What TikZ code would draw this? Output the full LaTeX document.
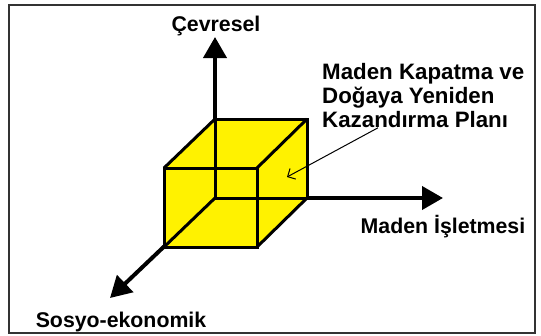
\documentclass[tikz,border=0pt]{standalone}
\usepackage{fontspec}
\setmainfont{Liberation Sans}
\usetikzlibrary{arrows.meta}

\begin{document}
\begin{tikzpicture}[x=1pt, y=-1pt,
    axisarrow/.style={line width=4pt, -{Triangle[length=21pt,width=23pt]}},
    cubeedge/.style={line width=3pt, line join=miter},
    axlabel/.style={font=\fontsize{21.3}{24}\selectfont\bfseries, inner sep=0pt},
    note/.style={line width=1pt, -{Straight Barb[length=6pt,width=12pt]}}]
    \useasboundingbox (0,0) rectangle (541,335);
    \draw[line width=1.3pt, black!80] (9,5) rectangle (535,333);

    % axes
    \coordinate (O) at (215,198);
    \coordinate (up) at (215,37);
    \coordinate (right) at (443,198);
    \coordinate (down) at (110,298);

    \draw[axisarrow] (O) -- (up);
    \draw[axisarrow] (O) -- (right);
    \draw[axisarrow] (O) -- (down);

    % cube
    \coordinate (fbl) at (164,247);
    \coordinate (ftl) at (164,168);
    \coordinate (ftr) at (257,168);
    \coordinate (fbr) at (257,247);
    \coordinate (btl) at (215,119);
    \coordinate (btr) at (307,119);
    \coordinate (bbr) at (307,198);

    \fill[yellow] (fbl) -- (ftl) -- (btl) -- (btr) -- (bbr) -- (fbr) -- cycle;
    \draw[cubeedge] (fbl) -- (ftl) -- (ftr) -- (fbr) -- cycle;
    \draw[cubeedge] (O) -- (btl) -- (btr) -- (bbr) -- cycle;
    \draw[cubeedge] (fbl) -- (O);
    \draw[cubeedge] (ftl) -- (btl);
    \draw[cubeedge] (ftr) -- (btr);
    \draw[cubeedge] (fbr) -- (bbr);

    \node[axlabel, anchor=base] (cevre) at (216,31) {Çevresel};
    \node[axlabel, anchor=base] (isletme) at (443,233) {Maden İşletmesi};
    \node[axlabel, anchor=base] (sosyo) at (121,327) {Sosyo-ekonomik};
    \node[axlabel, font=\fontsize{22.3}{24}\selectfont\bfseries,
        anchor=north west, align=left] (plan) at (322,63)
        {Maden Kapatma ve\\Doğaya Yeniden\\Kazandırma Planı};

    \coordinate (face) at (287,177);
    \draw[note] ([xshift=56pt]plan.south west) -- (face);
  \end{tikzpicture}
\end{document}
